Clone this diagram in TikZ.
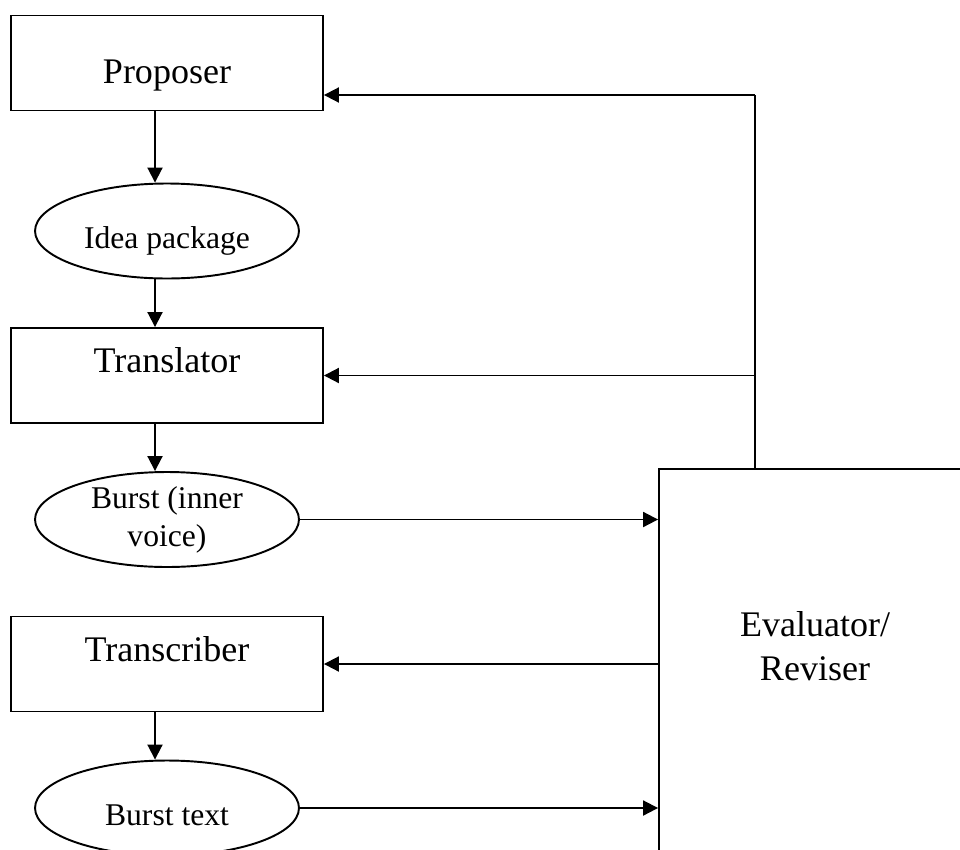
\documentclass[tikz,border=0pt]{standalone}
\usepackage{fontspec}
\setmainfont{Liberation Serif}
\usetikzlibrary{positioning}
\usetikzlibrary{shapes.geometric}
\usetikzlibrary{arrows.meta}
\tikzset{
  stagebox/.style={draw, line width=1.1pt, minimum width=6.24cm,
    minimum height=1.9cm, inner sep=0pt,
    font=\fontsize{20.5}{24}\selectfont},
  carrier/.style={draw, ellipse, line width=1.1pt, minimum width=5.28cm,
    minimum height=1.9cm, inner sep=0pt, align=center,
    font=\fontsize{18}{21.5}\selectfont},
  evalbox/.style={draw, line width=1.1pt, minimum width=6.8cm,
    minimum height=9.24cm, inner sep=0pt},
  flow/.style={-{Triangle[length=0.3cm,width=0.3cm]}, line width=1.1pt}
}

\begin{document}
\begin{tikzpicture}[x=0.02cm, y=-0.02cm]
    \useasboundingbox (0,0) rectangle (960,849);
    \clip (0,0) rectangle (960,849);
    % left column
    \node[stagebox, text height=1cm, text depth=0.2cm] (proposer) at (167,63) {Proposer};
    \node[carrier, text height=0.9cm, text depth=0.22cm] (idea) at (167,231) {Idea package};
    \node[stagebox, text height=0.5cm, text depth=0.62cm] (translator) at (167,375.5) {Translator};
    \node[carrier] (burst) at (167,519.5) {Burst (inner\\voice)};
    \node[stagebox, text height=0.5cm, text depth=0.62cm] (transcriber) at (167,664) {Transcriber};
    \node[carrier, text height=0.9cm, text depth=0.22cm] (bursttext) at (167,808) {Burst text};
    % evaluator, runs off the page
    \node[evalbox] (eval) at (829,700) {};
    \node[font=\fontsize{20.5}{25}\selectfont, align=center] (evaltext) at (815,646) {Evaluator/\\Reviser};
    \coordinate (fbfoot) at (755,469);
    \coordinate (fbtop) at (755,95);
    % down the column
    \draw[flow] ([xshift=-0.24cm]proposer.south) -- ([xshift=-0.24cm]idea.north);
    \draw[flow] ([xshift=-0.24cm]idea.south) -- ([xshift=-0.24cm]translator.north);
    \draw[flow] ([xshift=-0.24cm]translator.south) -- ([xshift=-0.24cm]burst.north);
    \draw[flow] ([xshift=-0.24cm]transcriber.south) -- ([xshift=-0.24cm]bursttext.north);
    % into and out of the evaluator
    \draw[flow] (burst.east) -- (burst.east -| eval.west);
    \draw[flow] (bursttext.east) -- (bursttext.east -| eval.west);
    \draw[flow] (eval.west |- transcriber.east) -- (transcriber.east);
    \draw[line width=1.1pt] (fbfoot) -- (fbtop);
    \draw[flow] (fbtop) -- (fbtop -| proposer.east);
    \draw[flow] (fbfoot |- translator.east) -- (translator.east);
\end{tikzpicture}
\end{document}
